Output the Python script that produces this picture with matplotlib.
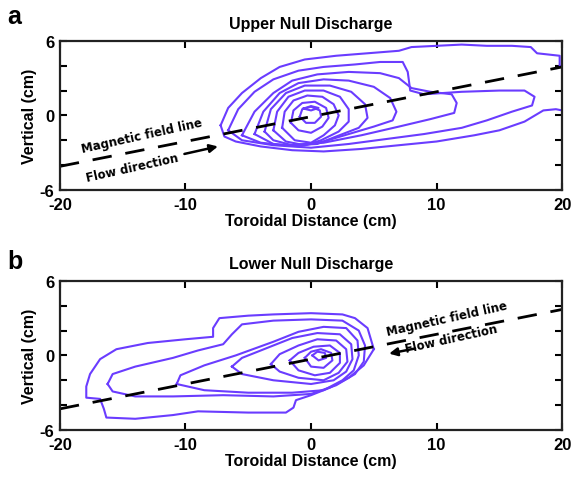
import matplotlib
matplotlib.use("Agg")
import matplotlib.pyplot as plt

plt.rcParams['font.family'] = ['Liberation Sans', 'DejaVu Sans']
plt.rcParams['axes.unicode_minus'] = False

# ---------------- data ----------------
x_ticks = [-20, -10, 0, 10, 20]
y_ticks = [-6, -4, -2, 0, 2, 4, 6]
y_ticklabels = ['-6', '', '', '0', '', '', '6']

# Panel a contours (outermost to innermost), cm
upper_contours = [
    [(-7.2,-0.8),(-6.6,0.6),(-5.5,1.8),(-4,3.0),(-2.5,3.9),(-0.5,4.5),(2,4.8),(4.5,5.0),(7,5.2),(8,5.5),
     (10,5.6),(12,5.7),(14,5.6),(16,5.6),(17.5,5.5),(18,5.0),(19.8,4.8),(19.8,4.0),(21,3.5),(21,0.2),
     (19.5,0.5),(18.5,0.4),(17,-0.5),(15,-1.2),(13,-1.6),(10,-2.1),(7,-2.4),(4,-2.7),(1,-2.9),
     (-1.5,-2.8),(-4,-2.5),(-6,-2.1),(-6.9,-1.7),(-7.2,-0.8)],
    [(-6.6,-1.2),(-5.8,0.5),(-4.5,1.9),(-3,2.9),(-1,3.6),(1,3.9),(3.5,4.1),(5.5,4.3),(7.3,4.3),(7.7,3.5),
     (7.9,2.0),(9,1.7),(12,1.9),(15,2.0),(17,2.0),(17.8,1.5),(17.6,0.8),(16,0.3),(14,-0.4),(12,-1.0),
     (9,-1.5),(6,-1.9),(3,-2.3),(0,-2.6),(-3,-2.4),(-5.5,-2.0),(-6.6,-1.2)],
    [(-5.5,-1.6),(-4.5,0.3),(-3,1.8),(-1.5,2.8),(0.5,3.3),(3,3.5),(5.5,3.4),(7,3.0),(8,2.2),(9.5,1.9),
     (11.2,1.7),(11.6,1.0),(11.4,0.2),(9.5,-0.3),(7,-0.9),(4,-1.6),(1,-2.2),(-2,-2.4),(-4,-2.2),(-5.5,-1.6)],
    [(-4.5,-1.5),(-3.8,0.3),(-2.5,1.8),(-1,2.6),(1,2.9),(3,2.8),(5,2.3),(6.3,1.4),(6.8,0.3),(6.5,-0.4),
     (5,-0.9),(3,-1.5),(1,-2.1),(-1,-2.5),(-3,-2.3),(-4.5,-1.5)],
    [(-3.7,-1.3),(-3.2,0.5),(-2,1.8),(-0.5,2.4),(1.5,2.4),(3.2,1.9),(4.3,0.9),(4.5,-0.2),(3.8,-1.0),
     (2,-1.7),(0.5,-2.3),(-1.5,-2.4),(-3,-2.0),(-3.7,-1.3)],
    [(-3.0,-1.2),(-2.7,0.3),(-1.8,1.5),(-0.5,2.0),(1,2.0),(2.3,1.5),(3.0,0.5),(3.0,-0.5),(2.2,-1.3),
     (0.8,-2.0),(-0.5,-2.4),(-2,-2.1),(-3.0,-1.2)],
    [(-2.3,-1.0),(-2.1,0.3),(-1.4,1.2),(-0.3,1.6),(0.9,1.5),(1.8,0.9),(2.2,0),(1.9,-0.8),(1,-1.6),
     (0,-2.2),(-1.3,-2.0),(-2.3,-1.0)],
    [(-1.6,-0.6),(-1.4,0.4),(-0.7,1.0),(0.3,1.1),(1.2,0.6),(1.4,-0.2),(0.9,-0.9),(0,-1.4),(-1,-1.2),(-1.6,-0.6)],
    [(-0.9,-0.1),(-0.7,0.5),(0,0.7),(0.7,0.4),(0.8,-0.1),(0.3,-0.6),(-0.4,-0.6),(-0.9,-0.1)],
    [(-0.6,0.55),(0,0.75),(0.6,0.6),(0,0.4),(-0.6,0.55)],
]

# Panel b contours (outermost to innermost), cm
lower_contours = [
    [(5.0,0.5),(4.5,2.2),(3.5,3.0),(2.5,3.3),(0,3.4),(-3,3.3),(-5,3.2),(-7.3,3.0),(-7.8,2.2),(-7.8,1.5),
     (-10,1.3),(-13,1.0),(-15.5,0.5),(-16.8,-0.3),(-17.6,-1.5),(-17.9,-2.5),(-17.9,-3.4),(-16.8,-3.5),
     (-16.5,-4.3),(-16.3,-5.0),(-14,-5.1),(-11,-4.8),(-9,-4.5),(-5,-4.6),(-2,-4.6),(-1.4,-4.2),
     (-1.2,-3.6),(0,-3.2),(1.5,-2.6),(3,-1.8),(4.2,-0.8),(5.0,0.5)],
    [(-16.2,-2.3),(-15.8,-1.5),(-14,-0.9),(-11,-0.2),(-9,0.4),(-7,0.9),(-6.3,1.7),(-5.5,2.5),(-3,2.8),
     (0,2.9),(2.5,2.8),(3.8,2.0),(4.3,0.8),(4.2,-0.5),(3.5,-1.5),(2,-2.4),(0,-3.1),(-3,-3.3),(-7,-3.2),
     (-11,-3.3),(-14,-3.3),(-15.8,-2.9),(-16.2,-2.3)],
    [(-10.7,-2.3),(-10.4,-1.6),(-8.5,-0.8),(-6,0),(-3,1.1),(-1,1.9),(1,2.3),(2.8,2.2),(3.7,1.2),(3.8,0),
     (3.4,-1.2),(2.5,-2.0),(1,-2.8),(-1.5,-3.0),(-5,-3.0),(-8.5,-2.8),(-10.7,-2.3)],
    [(-6.3,-0.9),(-5.5,-0.2),(-3.5,0.6),(-1.5,1.4),(0.5,1.8),(2.3,1.7),(3.2,0.9),(3.3,-0.3),(2.8,-1.3),
     (1.8,-2.0),(0,-2.3),(-3,-2.0),(-5.5,-1.5),(-6.3,-0.9)],
    [(-3.2,-0.7),(-2.5,0.1),(-1,0.8),(0.5,1.3),(2.0,1.2),(2.8,0.5),(2.9,-0.5),(2.2,-1.4),(1,-2.0),
     (-1,-1.8),(-2.5,-1.3),(-3.2,-0.7)],
    [(-1.7,-0.4),(-1.0,0.2),(0.2,0.7),(1.5,0.8),(2.3,0.2),(2.3,-0.6),(1.5,-1.4),(0.3,-1.6),(-1,-1.2),(-1.7,-0.4)],
    [(-0.5,-0.2),(0,0.3),(0.8,0.5),(1.6,0.2),(1.7,-0.4),(1.0,-1.0),(0,-0.9),(-0.5,-0.2)],
    [(0.1,0),(0.5,0.3),(1.1,0.2),(1.2,-0.2),(0.6,-0.4),(0.1,0)],
]

# Field lines (dashed), endpoints in cm
upper_field_x = [-20, 20]
upper_field_y = [-4.1, 3.9]
lower_field_x = [-20, 20]
lower_field_y = [-4.3, 3.7]

panels = [
    dict(letter='a', title='Upper Null Discharge', contours=upper_contours,
         fx=upper_field_x, fy=upper_field_y,
         mag_xy=(-13.5, -1.6), flow_xy=(-14.2, -4.2),
         arrow_from=(-10.3, -3.15), arrow_to=(-7.2, -2.45)),
    dict(letter='b', title='Lower Null Discharge', contours=lower_contours,
         fx=lower_field_x, fy=lower_field_y,
         mag_xy=(10.8, 3.0), flow_xy=(11.2, 1.35),
         arrow_from=(8.5, 0.6), arrow_to=(6.0, 0.1)),
]

contour_color = '#6a3cff'

fig = plt.figure(figsize=(5.76, 4.81), dpi=100)
axes_rects = [[0.104, 0.603, 0.872, 0.31], [0.104, 0.104, 0.872, 0.31]]
letter_y = [0.965, 0.455]

for rect, ly, p in zip(axes_rects, letter_y, panels):
    ax = fig.add_axes(rect)
    for c in p['contours']:
        xs = [pt[0] for pt in c]
        ys = [pt[1] for pt in c]
        ax.plot(xs, ys, color=contour_color, lw=1.5, solid_joinstyle='round')
    ax.plot(p['fx'], p['fy'], color='black', lw=2.0, dashes=(7, 5))
    ax.set_xlim(-20, 20)
    ax.set_ylim(-6, 6)
    ax.set_xticks(x_ticks)
    ax.set_yticks(y_ticks)
    ax.set_yticklabels(y_ticklabels)
    ax.tick_params(direction='in', top=True, right=True, length=5, width=1.5,
                   labelsize=12)
    ax.tick_params(axis='x', pad=5)
    ax.tick_params(axis='y', pad=4)
    for lab in ax.get_xticklabels() + ax.get_yticklabels():
        lab.set_fontweight('bold')
    for s in ax.spines.values():
        s.set_linewidth(1.6)
        s.set_color('#222222')
    ax.set_xlabel('Toroidal Distance (cm)', fontsize=11.5, fontweight='bold', labelpad=1)
    ax.set_ylabel('Vertical (cm)', fontsize=11.5, fontweight='bold', labelpad=2)
    ax.set_title(p['title'], fontsize=11.5, fontweight='bold', pad=9)
    fig.text(0.012, ly, p['letter'], fontsize=18, fontweight='bold',
             va='center', ha='left')
    ax.text(*p['mag_xy'], 'Magnetic field line', fontsize=8.5, rotation=12.5,
            ha='center', va='center', fontweight='bold', family='DejaVu Sans')
    ax.text(*p['flow_xy'], 'Flow direction', fontsize=8.5, rotation=12.5,
            ha='center', va='center', fontweight='bold', family='DejaVu Sans')
    ax.annotate('', xy=p['arrow_to'], xytext=p['arrow_from'],
                arrowprops=dict(arrowstyle='-|>', color='black', lw=1.8,
                                mutation_scale=12))

fig.savefig('out.png', dpi=100)
